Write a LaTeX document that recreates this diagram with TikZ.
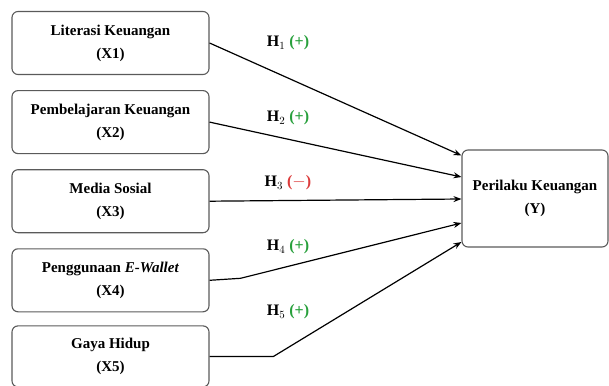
\documentclass[tikz,border=0pt]{standalone}
\usepackage{fontspec}
\setmainfont{Liberation Serif}
\usepackage{tikz}
\usetikzlibrary{arrows,arrows.meta,positioning}
\usepackage{xcolor}
\definecolor{boxgray}{RGB}{90,90,90}
\definecolor{plusgreen}{RGB}{40,160,60}
\definecolor{minusred}{RGB}{220,60,60}
\tikzstyle{varbox} = [rectangle, rounded corners=6pt, minimum width=197pt, minimum height=63pt, text centered, align=center, draw=boxgray, line width=1.1pt, font=\fontsize{15}{23}\selectfont\bfseries]
\tikzstyle{hyp} = [font=\fontsize{16}{18}\selectfont\bfseries]
\tikzstyle{arrow} = [line width=1.2pt,-{Stealth[length=8pt,width=6pt]}]

\begin{document}
\begin{tikzpicture}[x=1pt, y=-1pt]
\useasboundingbox (0,0) rectangle (609,385);
\node (x1) [varbox] at (110.5,43) {Literasi Keuangan\\(X1)};
\node (x2) [varbox, below=15pt of x1] {Pembelajaran Keuangan\\(X2)};
\node (x3) [varbox, below=15pt of x2] {Media Sosial\\(X3)};
\node (x4) [varbox, below=15pt of x3] {Penggunaan \textit{E-Wallet}\\(X4)};
\node (x5) [varbox, below=13pt of x4, minimum height=61pt] {Gaya Hidup\\(X5)};
\node (y) [varbox, minimum width=146pt, minimum height=97pt] at (535,198.5) {Perilaku Keuangan\\(Y)};

% hypotheses
\node (h1) [hyp] at (288,43) {H$_1$ \textcolor{plusgreen}{(+)}};
\node (h2) [hyp] at (288,118) {H$_2$ \textcolor{plusgreen}{(+)}};
\node (h3) [hyp] at (288,183) {H$_3$ \textcolor{minusred}{($-$)}};
\node (h4) [hyp] at (288,247) {H$_4$ \textcolor{plusgreen}{(+)}};
\node (h5) [hyp] at (288,312) {H$_5$ \textcolor{plusgreen}{(+)}};

\draw[arrow] (x1.east) -- ([yshift=43pt]y.west);
\draw[arrow] (x2.east) -- ([yshift=21.5pt]y.west);
\draw[arrow] (x3.east) -- ([yshift=-0.5pt]y.west);
\draw[arrow] (x4.east) -- ++(31,-2) -- ([yshift=-24.5pt]y.west);
\draw[arrow] (x5.east) -- ++(64,0) -- ([yshift=-43.5pt]y.west);
\end{tikzpicture}
\end{document}
